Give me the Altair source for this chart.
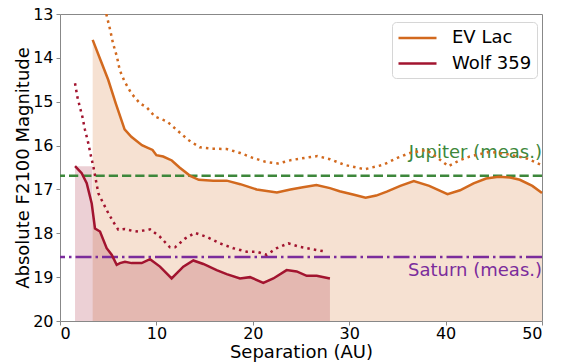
import altair as alt
import pandas as pd
import numpy as np

# ---- data ----
ev_sep = [3.39, 4.2, 5.0, 5.8, 6.7, 7.4, 8.5, 9.0, 9.6, 10.0, 10.7, 11.6, 12.4, 13.5, 14.4,
          15.9, 17.3, 18.7, 20.4, 22.5, 23.9, 25.2, 26.6, 28.0, 29.0, 30.5, 31.7, 32.8, 33.9,
          35.3, 36.7, 38.3, 40.2, 41.5, 42.9, 44.2, 45.5, 46.7, 47.7, 49.0, 50.0]
ev_mag = [13.59, 14.05, 14.50, 15.05, 15.63, 15.80, 15.99, 16.04, 16.10, 16.22, 16.25, 16.34,
          16.50, 16.69, 16.78, 16.80, 16.80, 16.88, 17.00, 17.07, 17.00, 16.95, 16.90, 16.97,
          17.04, 17.12, 17.19, 17.14, 17.05, 16.92, 16.81, 16.92, 17.11, 17.02, 16.86, 16.75,
          16.71, 16.73, 16.78, 16.92, 17.08]

ev_dot_sep = [4.8, 5.2, 5.5, 5.9, 6.2, 6.7, 7.4, 8.3, 9.0, 9.85, 11.1, 12.3, 13.3, 14.5, 15.9,
              17.3, 18.7, 20.0, 21.3, 22.6, 24.0, 25.4, 26.7, 28.0, 29.5, 31.6, 33.5, 35.0,
              36.3, 38.0, 39.0, 40.3, 41.5, 42.5, 44.6, 46.7, 48.5, 50.0]
ev_dot_mag = [13.0, 13.36, 13.67, 13.97, 14.28, 14.54, 14.81, 15.04, 15.13, 15.34, 15.45, 15.68,
              15.87, 16.04, 16.07, 16.08, 16.17, 16.28, 16.37, 16.41, 16.33, 16.28, 16.24, 16.31,
              16.44, 16.54, 16.44, 16.28, 16.17, 16.10, 16.25, 16.47, 16.33, 16.25, 16.14, 16.21,
              16.30, 16.45]

wolf_sep = [1.56, 2.25, 2.77, 3.29, 3.63, 4.15, 4.84, 5.36, 5.88, 6.22, 6.74, 7.43, 8.47, 9.34,
            10.37, 11.58, 12.79, 13.83, 14.87, 16.25, 17.29, 18.67, 19.71, 21.09, 22.13, 23.51,
            24.55, 25.59, 26.63, 28.0]
wolf_mag = [16.47, 16.63, 16.86, 17.32, 17.89, 17.96, 18.34, 18.49, 18.72, 18.68, 18.65, 18.68,
            18.68, 18.59, 18.76, 19.03, 18.76, 18.62, 18.70, 18.84, 18.93, 19.03, 19.00, 19.13,
            19.03, 18.84, 18.87, 18.97, 18.97, 19.03]

wolf_dot_sep = [1.56, 1.80, 2.14, 2.32, 2.59, 2.94, 3.22, 3.46, 3.98, 4.5, 5.01, 5.53, 6.05,
                6.74, 7.43, 8.13, 9.34, 10.37, 11.41, 11.93, 12.97, 14.0, 15.21, 16.6, 17.98,
                19.37, 20.4, 21.44, 22.48, 23.68, 24.9, 26.28, 27.67]
wolf_dot_mag = [14.58, 14.89, 15.19, 15.34, 15.64, 15.95, 16.25, 16.48, 17.09, 17.32, 17.54,
                17.74, 17.92, 17.90, 17.94, 17.96, 17.91, 18.08, 18.32, 18.32, 18.12, 17.99,
                18.08, 18.23, 18.34, 18.42, 18.42, 18.49, 18.34, 18.23, 18.31, 18.37, 18.42]

wolf_fill_step_sep = 3.35   # edge of the lighter Wolf 359 shading
jupiter_mag = 16.69
saturn_mag = 18.54
stars = ["EV Lac", "Wolf 359"]
star_colors = ["#d2691e", "#a2142f"]
faint_limit = 20

# ---- tables ----
ev = pd.DataFrame({"sep": ev_sep, "mag": ev_mag, "star": stars[0]})
wolf = pd.DataFrame({"sep": wolf_sep, "mag": wolf_mag, "star": stars[1]})
ev_dot = pd.DataFrame({"sep": ev_dot_sep, "mag": ev_dot_mag})
wolf_dot = pd.DataFrame({"sep": wolf_dot_sep, "mag": wolf_dot_mag})
solid = pd.concat([ev, wolf], ignore_index=True)

ev_fill = ev.assign(base=faint_limit)
edge_val = float(np.interp(wolf_fill_step_sep, wolf_sep, wolf_mag))
wf_sep = [wolf_sep[0], wolf_fill_step_sep - 0.01, wolf_fill_step_sep] + \
    [s for s in wolf_sep if s > wolf_fill_step_sep]
wf_mag = [wolf_mag[0], wolf_mag[0], edge_val] + \
    [m for s, m in zip(wolf_sep, wolf_mag) if s > wolf_fill_step_sep]
wolf_fill = pd.DataFrame({"sep": wf_sep, "mag": wf_mag, "base": faint_limit})

FONT = "DejaVu Sans"
xs = alt.Scale(domain=[0, 50], nice=False, zero=False)
ys = alt.Scale(domain=[13, 20], nice=False, zero=False, reverse=True)
X = alt.X("sep:Q", scale=xs, title="Separation (AU)",
          axis=alt.Axis(values=[0, 10, 20, 30, 40, 50]))
Y = alt.Y("mag:Q", scale=ys, title="Absolute F2100 Magnitude",
          axis=alt.Axis(values=list(range(13, 21))))

area_ev = alt.Chart(ev_fill).mark_area(color=star_colors[0], opacity=0.2).encode(
    x=X, y=Y, y2="base:Q")
area_wolf = alt.Chart(wolf_fill).mark_area(color=star_colors[1], opacity=0.2).encode(
    x=X, y=Y, y2="base:Q")

jup = alt.Chart(pd.DataFrame({"mag": [jupiter_mag]})).mark_rule(
    color="#3d873b", strokeWidth=2.5, strokeDash=[9.25, 4]).encode(y=Y)
sat = alt.Chart(pd.DataFrame({"mag": [saturn_mag]})).mark_rule(
    color="#7b2c9c", strokeWidth=2.5, strokeDash=[16, 4, 2.5, 4]).encode(y=Y)

jup_txt = alt.Chart(pd.DataFrame({"sep": [50], "mag": [16.17], "t": ["Jupiter (meas.)"]})).mark_text(
    align="right", baseline="middle", fontSize=18, font=FONT, color="#3d873b").encode(
    x=X, y=Y, text="t:N")
sat_txt = alt.Chart(pd.DataFrame({"sep": [50], "mag": [18.87], "t": ["Saturn (meas.)"]})).mark_text(
    align="right", baseline="middle", fontSize=18, font=FONT, color="#7b2c9c").encode(
    x=X, y=Y, text="t:N")

dot_ev = alt.Chart(ev_dot).mark_line(
    color=star_colors[0], strokeWidth=2.5, strokeDash=[2.5, 4.1], clip=True).encode(x=X, y=Y)
dot_wolf = alt.Chart(wolf_dot).mark_line(
    color=star_colors[1], strokeWidth=2.5, strokeDash=[2.5, 4.1], clip=True).encode(x=X, y=Y)

lines = alt.Chart(solid).mark_line(strokeWidth=2.5).encode(
    x=X, y=Y,
    color=alt.Color("star:N", scale=alt.Scale(domain=stars, range=star_colors),
                    legend=alt.Legend(title=None, orient="none", legendX=332, legendY=8,
                                      symbolType="M-1,0H3", symbolSize=361,
                                      symbolStrokeWidth=2.5, labelFontSize=18,
                                      labelFont=FONT, labelOffset=33, padding=5,
                                      rowPadding=5.5, strokeColor="#d6d6d6",
                                      cornerRadius=4, fillColor="white")),
    detail="star:N")

chart = alt.layer(area_ev, area_wolf, jup, sat, jup_txt, sat_txt, dot_ev, dot_wolf, lines).properties(
    width=482, height=307,
    autosize=alt.AutoSizeParams(type="none"),
    padding={"left": 60, "top": 14, "right": 20, "bottom": 43},
).configure_view(stroke="#888888", strokeWidth=1).configure_axis(
    grid=False, domainColor="#888888", tickColor="#888888", tickSize=4, tickWidth=1,
    labelFont=FONT, labelFontSize=16, labelColor="black", labelPadding=3,
    titleFont=FONT, titleFontSize=18, titleFontWeight="normal", titleColor="black",
    domain=False
).configure_axisY(titlePadding=0).configure_axisX(titlePadding=2, labelPadding=0.5)

chart.save("out.html", embed_options={"renderer": "svg", "actions": False})
